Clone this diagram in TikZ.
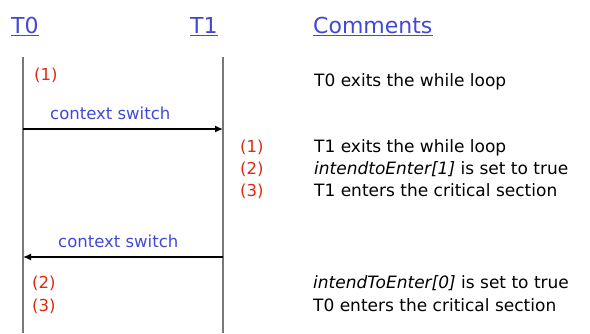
\documentclass[tikz,border=0pt]{standalone}
\usepackage{fontspec}
\setmainfont{DejaVu Sans}
\usetikzlibrary{arrows.meta, positioning}

\definecolor{headblue}{RGB}{66,72,214}
\definecolor{numred}{RGB}{222,42,18}
\definecolor{lifegray}{RGB}{120,120,120}

\tikzset{
  head/.style={anchor=base west, inner sep=0pt, text=headblue, font=\fontsize{22}{22}\selectfont},
  headline/.style={draw=headblue, line width=1.6pt},
  lifeline/.style={draw=lifegray, line width=1.5pt},
  switch/.style={draw=black, line width=1.4pt, -{Latex[length=8pt, width=7pt]}},
  switchlabel/.style={anchor=base west, inner sep=0pt, text=headblue, font=\fontsize{16.5}{16.5}\selectfont},
  stepnum/.style={anchor=base west, inner sep=0pt, text=numred, font=\fontsize{16.5}{16.5}\selectfont},
  comment/.style={anchor=base west, inner sep=0pt, font=\fontsize{17}{17}\selectfont}
}

\begin{document}
\begin{tikzpicture}[x=1pt, y=-1pt]

\useasboundingbox (0,0) rectangle (590,333);

% column heads
\node[head] (hT0) at (11,33) {T0};
\node[head] (hT1) at (190,33) {T1};
\node[head] (hcom) at (313,33) {Comments};
\draw[headline] ([yshift=-2.5pt]hT0.base west) -- ([yshift=-2.5pt]hT0.base east);
\draw[headline] ([yshift=-2.5pt]hT1.base west) -- ([yshift=-2.5pt]hT1.base east);
\draw[headline] ([yshift=-2.5pt]hcom.base west) -- ([yshift=-2.5pt]hcom.base east);

% life lines of the two threads
\coordinate (t0top) at (23,57);
\coordinate (t0bot) at (23,333);
\coordinate (t1top) at (223,57);
\coordinate (t1bot) at (223,333);
\draw[lifeline] (t0top) -- (t0bot);
\draw[lifeline] (t1top) -- (t1bot);

% T0 leaves the loop
\node[stepnum] (n01) at (34,80) {(1)};
\node[comment] (c01) at (314,86) {T0 exits the while loop};

% first switch T0 -> T1
\coordinate (sw1a) at (23,129);
\coordinate (sw1b) at (223,129);
\draw[switch] (sw1a) -- (sw1b);
\node[switchlabel] (lsw1) at (50,119) {context switch};

% T1 runs
\node[stepnum] (n11) at (240,152) {(1)};
\node[stepnum] (n12) at (240,174) {(2)};
\node[stepnum] (n13) at (240,196) {(3)};
\node[comment] (c11) at (314,152) {T1 exits the while loop};
\node[comment] (c12) at (314,174) {\textit{intendtoEnter[1]} is set to true};
\node[comment] (c13) at (314,196) {T1 enters the critical section};

% second switch T1 -> T0
\coordinate (sw2a) at (223,257);
\coordinate (sw2b) at (23,257);
\draw[switch] (sw2a) -- (sw2b);
\node[switchlabel] (lsw2) at (58,247) {context switch};

% T0 runs again
\node[stepnum] (n02) at (32,288) {(2)};
\node[stepnum] (n03) at (32,311) {(3)};
\node[comment] (c02) at (313,288) {\textit{intendToEnter[0]} is set to true};
\node[comment] (c03) at (313,311) {T0 enters the critical section};

\end{tikzpicture}
\end{document}
